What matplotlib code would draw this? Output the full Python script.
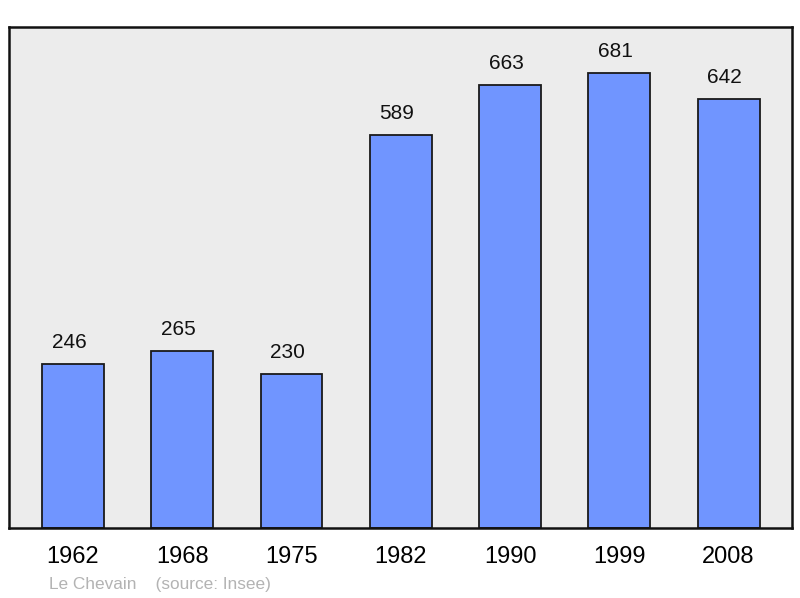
import matplotlib.pyplot as plt

years = ['1962', '1968', '1975', '1982', '1990', '1999', '2008']
population = [246, 265, 230, 589, 663, 681, 642]

plt.rcParams['font.family'] = ['Liberation Sans', 'DejaVu Sans']

fig = plt.figure(figsize=(8, 5.98), dpi=100)
ax = fig.add_axes([9 / 800, 70 / 598, 783 / 800, 501 / 598])
ax.set_facecolor('#ececec')

x = range(len(years))
ax.bar(x, population, width=0.567, color='#7095ff', edgecolor='#1a1a1a', linewidth=1.3, zorder=2)
for xi, v in zip(x, population):
    ax.text(xi - 0.035, v + 18, str(v), ha='center', va='bottom', fontsize=15, color='#111111')

ax.set_xlim(-0.585, 6.58)
ax.set_ylim(0, 750)
ax.set_yticks([])
ax.set_xticks(list(x))
ax.set_xticklabels(years, fontsize=17)
ax.tick_params(axis='x', length=0, pad=13)
for s in ax.spines.values():
    s.set_linewidth(1.8)
    s.set_color('#111111')

fig.text(49 / 800, 1 - 585 / 598, 'Le Chevain    (source: Insee)', fontsize=12.4,
         color='#b3b3b3', ha='left', va='center')

plt.savefig('out.png')
